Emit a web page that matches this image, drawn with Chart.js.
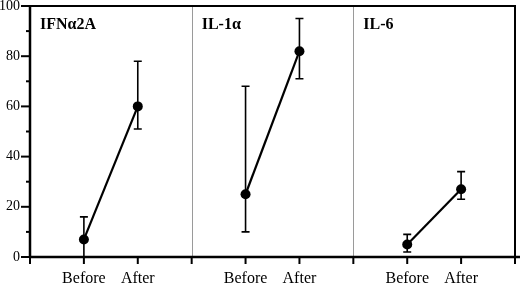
<!DOCTYPE html>
<html>
<head>
<meta charset="utf-8">
<script src="https://cdn.jsdelivr.net/npm/chart.js@4.4.0/dist/chart.umd.min.js"></script>
<style>
  html, body { margin: 0; padding: 0; background: #fff; }
  #wrap { width: 520px; height: 286px; }
</style>
</head>
<body>
<div id="wrap"><canvas id="chart"></canvas></div>
<script>
// datos
const categories = ['Before', 'After'];
const panels = ['IFNα2A', 'IL-1α', 'IL-6'];
const means = [[7, 60], [25, 82], [5, 27]];
const upper = [[16, 78], [68, 95], [9, 34]];
const lower = [[0, 51], [10, 71], [2, 23]];
const yTicks = [0, 20, 40, 60, 80, 100];

const serif = '"Liberation Serif", "DejaVu Serif", serif';

// barras de error, ejes, marco y titulos de cada panel
const frame = {
    id: 'frame',
    beforeDatasetsDraw(chart) {
        const { ctx, chartArea: a, scales: { x, y } } = chart;
        ctx.save();
        ctx.strokeStyle = '#000';
        ctx.lineWidth = 1.6;
        panels.forEach((p, i) => {
            categories.forEach((c, j) => {
                const px = x.getPixelForValue(i * 3 + j + 1);
                const hi = y.getPixelForValue(upper[i][j]);
                const lo = y.getPixelForValue(lower[i][j]);
                ctx.beginPath();
                ctx.moveTo(px, hi); ctx.lineTo(px, lo);
                ctx.moveTo(px - 4, hi); ctx.lineTo(px + 4, hi);
                ctx.moveTo(px - 4, lo); ctx.lineTo(px + 4, lo);
                ctx.stroke();
            });
        });

        // separadores de panel
        ctx.strokeStyle = '#9a9a9a';
        ctx.lineWidth = 1;
        [3, 6].forEach(v => {
            const px = Math.round(x.getPixelForValue(v)) + 0.5;
            ctx.beginPath();
            ctx.moveTo(px, a.top); ctx.lineTo(px, a.bottom);
            ctx.stroke();
        });

        // marco superior y derecho
        ctx.strokeStyle = '#000';
        ctx.lineWidth = 2;
        ctx.beginPath();
        ctx.moveTo(a.left, a.top); ctx.lineTo(a.right, a.top); ctx.lineTo(a.right, a.bottom);
        ctx.stroke();

        // ejes
        ctx.lineWidth = 2.5;
        ctx.beginPath();
        ctx.moveTo(a.left, a.top - 1); ctx.lineTo(a.left, a.bottom);
        ctx.moveTo(a.left, a.bottom); ctx.lineTo(chart.width, a.bottom);
        ctx.stroke();

        // marcas del eje y
        ctx.lineWidth = 2;
        for (let v = 0; v <= 100; v += 10) {
            const py = y.getPixelForValue(v);
            const len = yTicks.includes(v) ? 9 : 4;
            ctx.beginPath();
            ctx.moveTo(a.left - len, py); ctx.lineTo(a.left, py);
            ctx.stroke();
        }
        // marcas del eje x
        for (let v = 0; v <= 9; v++) {
            const px = x.getPixelForValue(v);
            ctx.beginPath();
            ctx.moveTo(px, a.bottom); ctx.lineTo(px, a.bottom + 7);
            ctx.stroke();
        }

        // titulos
        ctx.fillStyle = '#000';
        ctx.font = 'bold 16px ' + serif;
        ctx.textBaseline = 'alphabetic';
        panels.forEach((p, i) => {
            ctx.fillText(p, x.getPixelForValue(i * 3) + 10, a.top + 23);
        });
        ctx.restore();
    }
};

function noPad(s) {
    s.paddingLeft = 0;
    s.paddingRight = 0;
    s.paddingTop = 0;
    s.paddingBottom = 0;
}

document.addEventListener('DOMContentLoaded', function () {
    const ctx = document.getElementById('chart').getContext('2d');
    new Chart(ctx, {
        type: 'scatter',
        data: {
            datasets: panels.map((p, i) => ({
                label: p,
                data: means[i].map((v, j) => ({ x: i * 3 + j + 1, y: v })),
                showLine: true,
                borderColor: '#000',
                borderWidth: 2.2,
                pointRadius: 5,
                pointBackgroundColor: '#000',
                pointBorderColor: '#000',
                pointBorderWidth: 0
            }))
        },
        options: {
            responsive: true,
            maintainAspectRatio: false,
            animation: false,
            layout: { padding: { top: 6, right: 4, left: 0, bottom: 0 } },
            plugins: { legend: { display: false }, tooltip: { enabled: false } },
            scales: {
                x: {
                    type: 'linear',
                    min: 0,
                    max: 9,
                    afterFit: s => { s.height = 29; noPad(s); },
                    afterBuildTicks: s => { s.ticks = [0, 1, 2, 3, 4, 5, 6, 7, 8, 9].map(v => ({ value: v })); },
                    grid: { display: false, drawTicks: false },
                    border: { display: false },
                    ticks: {
                        autoSkip: false,
                        maxRotation: 0,
                        padding: 12,
                        color: '#000',
                        font: { family: serif, size: 16 },
                        callback: v => (v % 3 === 0 ? '' : categories[v % 3 - 1])
                    }
                },
                y: {
                    min: 0,
                    max: 100,
                    afterFit: s => { s.width = 30; noPad(s); },
                    afterBuildTicks: s => { s.ticks = yTicks.map(v => ({ value: v })); },
                    grid: { display: false, drawTicks: false },
                    border: { display: false },
                    ticks: {
                        padding: 10,
                        color: '#000',
                        font: { family: serif, size: 14 }
                    }
                }
            }
        },
        plugins: [frame]
    });
});
</script>
</body>
</html>
